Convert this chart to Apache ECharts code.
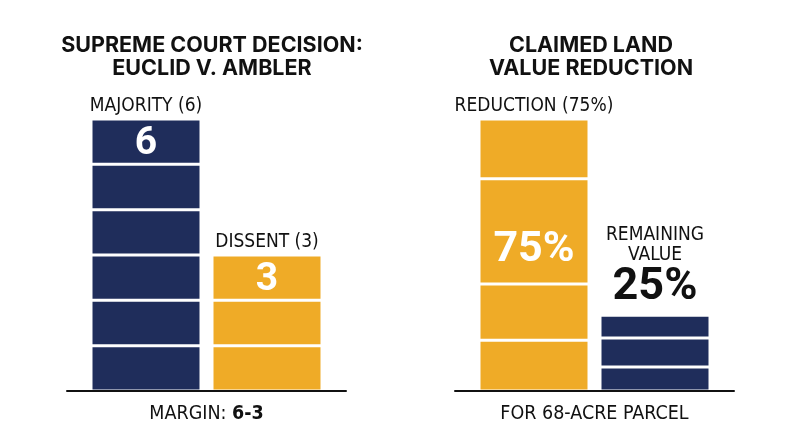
<!DOCTYPE html>
<html>
<head>
<meta charset="utf-8">
<script src="https://cdn.jsdelivr.net/npm/echarts@6/dist/echarts.min.js"></script>
<style>
  html, body { margin: 0; background: #fff; }
  #chart { width: 800px; height: 447px; }
</style>
</head>
<body>
<div id="chart"></div>
<script>
// left panel: justices' votes, one block per vote
const voteFooter = ['MARGIN: 6-3']
const voteBars = ['MAJORITY (6)', 'DISSENT (3)']
const voteBlocks = [
  [1, 1, 1, 1, 1, 1],
  [1, 1, 1],
]
const voteValues = ['6', '3']

// right panel: claimed land value split, block heights in percentage points as drawn
const valueFooter = ['FOR 68-ACRE PARCEL']
const valueBars = ['REDUCTION (75%)', 'REMAINING\nVALUE']
const valueBlocks = [
  [14, 15.5, 29, 16.5],
  [6.6, 8, 6.3],
]
const valueValues = ['75%', '25%']

const titles = [
  ['SUPREME COURT DECISION:', 'EUCLID V. AMBLER'],
  ['CLAIMED LAND', 'VALUE REDUCTION'],
]

const NAVY = '#1f2d5b'
const GOLD = '#efab27'
const INK = '#111'
const narrow = "'Liberation Sans Narrow', 'DejaVu Sans Condensed', 'Roboto', sans-serif"
const heavy = "'Inter', 'DejaVu Sans', sans-serif"
const digits = "'Roboto', 'Inter', sans-serif"

const barBase = {
  type: 'bar',
  barWidth: 110,
  barGap: '10%',
  stackStrategy: 'all',
  animation: false,
}

// one stack per bar: a bar series per block, plus an empty cap that carries the caption
const buildPanel = (panel, names, blocks, values, colors, valueBlock, valueOnTop) => {
  const series = []

  names.forEach((name, b) => {
    const stack = `p${panel}b${b}`

    blocks[b].forEach((v, i) => {
      const hasValue = !valueOnTop[b] && i === valueBlock[b]

      series.push({
        ...barBase,
        name: `${stack}-${i}`,
        stack,
        xAxisIndex: panel,
        yAxisIndex: panel,
        data: [v],
        itemStyle: { color: colors[b], borderColor: '#fff', borderWidth: 1.5 },
        emphasis: { disabled: true },
        label: {
          show: hasValue,
          position: 'inside',
          offset: panel === 1 ? [0, 19] : [0, 3],
          formatter: values[b],
          color: '#fff',
          fontFamily: digits,
          fontWeight: 'bold',
          fontSize: panel === 1 ? 43 : 39,
        },
      })
    })

    series.push({
      ...barBase,
      name: `${stack}-cap`,
      stack,
      xAxisIndex: panel,
      yAxisIndex: panel,
      data: [0],
      itemStyle: { color: 'transparent', borderWidth: 0 },
      emphasis: { disabled: true },
      label: {
        show: true,
        position: 'top',
        distance: valueOnTop[b] ? 4 : 3,
        formatter: valueOnTop[b]
          ? name.split('\n').map((l) => `{c|${l}}`).join('\n') + `\n{v|${values[b]}}`
          : `{c|${name}}`,
        rich: {
          c: { fontFamily: narrow, fontSize: 19, lineHeight: 20, color: INK },
          v: { fontFamily: digits, fontWeight: 'bold', fontSize: 45, lineHeight: 46, color: INK },
        },
      },
    })
  })

  return series
}

const axisFor = (panel, footer) => ({
  type: 'category',
  gridIndex: panel,
  data: footer,
  z: 5,
  axisTick: { show: false },
  axisLine: { lineStyle: { color: INK, width: 2 } },
  axisLabel: {
    margin: 13,
    formatter: (v) => {
      const m = v.match(/^(.*: )(.+)$/)
      return m ? `{n|${m[1]}}{b|${m[2]}}` : `{n|${v}}`
    },
    rich: {
      n: { fontFamily: narrow, fontSize: 19.5, color: INK },
      b: { fontFamily: narrow, fontSize: 19.5, fontWeight: 'bold', color: INK },
    },
  },
})

const chart = echarts.init(document.getElementById('chart'))

chart.setOption({
  animation: false,
  backgroundColor: '#fff',
  grid: [
    { left: 67, right: 454, top: 119, bottom: 56 },
    { left: 455, right: 66, top: 119, bottom: 56 },
  ],
  xAxis: [axisFor(0, voteFooter), axisFor(1, valueFooter)],
  yAxis: [
    { type: 'value', gridIndex: 0, min: 0, max: 6, show: false },
    { type: 'value', gridIndex: 1, min: 0, max: 75, show: false },
  ],
  graphic: titles.map((lines, i) => ({
    type: 'text',
    x: i === 0 ? 212 : 591,
    y: 34,
    style: {
      text: lines.join('\n'),
      textAlign: 'center',
      textVerticalAlign: 'top',
      font: `bold 21.5px ${heavy}`,
      lineHeight: 23,
      fill: INK,
    },
  })),
  series: [
    ...buildPanel(0, voteBars, voteBlocks, voteValues, [NAVY, GOLD], [5, 2], [false, false]),
    ...buildPanel(1, valueBars, valueBlocks, valueValues, [GOLD, NAVY], [2, 0], [false, true]),
  ],
})
</script>
</body>
</html>
